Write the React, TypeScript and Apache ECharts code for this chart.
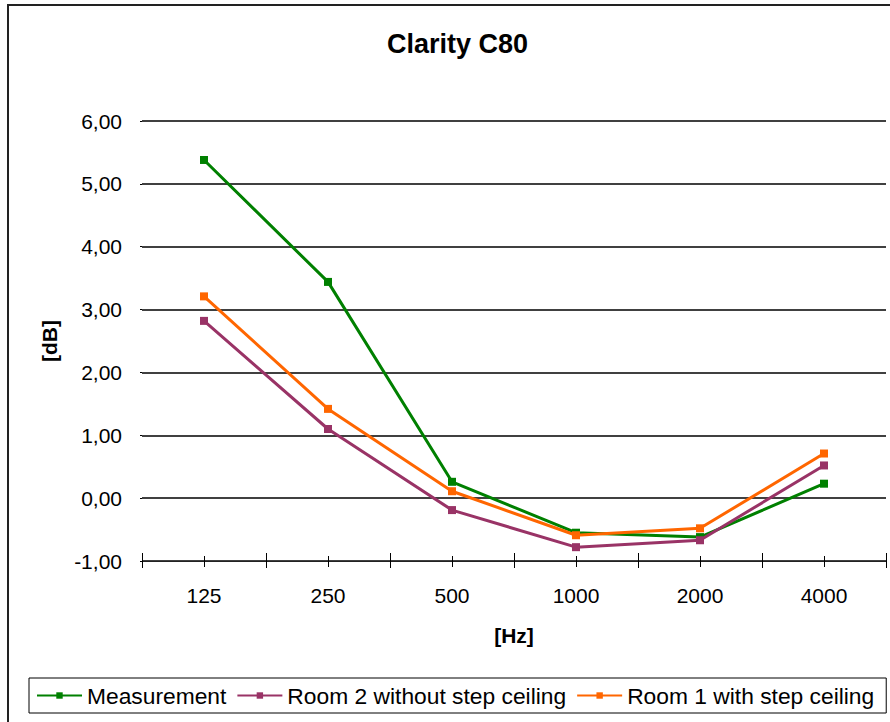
import React, { useEffect, useRef } from "react";
import * as echarts from "echarts";

const categories = ["125", "250", "500", "1000", "2000", "4000"];
const measurement = [5.38, 3.44, 0.26, -0.55, -0.62, 0.23];
const room2 = [2.82, 1.1, -0.19, -0.78, -0.67, 0.52];
const room1 = [3.21, 1.42, 0.11, -0.59, -0.48, 0.71];
const yTicks = { min: -1, max: 6, interval: 1 };

const FONT = "'Liberation Sans', Arial, sans-serif";

export default function App() {
  const ref = useRef<HTMLDivElement>(null);
  useEffect(() => {
    if (!ref.current) return;
    const chart = echarts.init(ref.current, undefined, { renderer: "svg" });
    const gridRect = { left: 142, top: 121, width: 744, height: 440 };
    const grids = [0, 1, 2, 3].map(() => ({ ...gridRect, containLabel: false }));
    const tickAxis = (idx: number, inside: boolean, len: number, align: boolean) => ({
      type: "category",
      gridIndex: idx,
      data: categories,
      boundaryGap: true,
      axisLine: { show: false, onZero: false },
      axisLabel: { show: false },
      splitLine: { show: false },
      axisTick: { show: true, inside, length: len, alignWithLabel: align, lineStyle: { color: "#000", width: 1 } },
    });
    const hiddenY = (idx: number) => ({ type: "value", gridIndex: idx, show: false, min: yTicks.min, max: yTicks.max });
    const series = [
      { name: "Measurement", data: measurement, color: "#008000" },
      { name: "Room 2 without step ceiling", data: room2, color: "#993366" },
      { name: "Room 1 with step ceiling", data: room1, color: "#FF6600" },
    ].map((s) => ({
      type: "line",
      name: s.name,
      data: s.data,
      xAxisIndex: 0,
      yAxisIndex: 0,
      symbol: "rect",
      symbolSize: 8,
      showSymbol: true,
      lineStyle: { color: s.color, width: 3 },
      itemStyle: { color: s.color },
      z: 5,
    }));
    chart.setOption({
      animation: false,
      backgroundColor: "#fff",
      textStyle: { fontFamily: FONT },
      title: {
        text: "Clarity C80",
        left: 387,
        top: 30,
        padding: 0,
        textStyle: { fontFamily: FONT, fontSize: 27, fontWeight: "bold", color: "#000" },
      },
      graphic: [
        {
          type: "rect",
          shape: { x: 8, y: 5, width: 1000, height: 1000 },
          style: { fill: "none", stroke: "#222", lineWidth: 2 },
          silent: true,
        },
      ],
      legend: {
        left: 29,
        top: 678,
        width: 880,
        padding: [6, 12, 6, 7],
        itemWidth: 45,
        itemHeight: 8,
        itemGap: 10,
        borderColor: "#000",
        borderWidth: 1,
        textStyle: { fontFamily: FONT, fontSize: 22.8, color: "#000" },
        data: series.map((s) => s.name),
      },
      grid: grids,
      xAxis: [
        {
          type: "category",
          gridIndex: 0,
          data: categories,
          boundaryGap: true,
          name: "[Hz]",
          nameLocation: "middle",
          nameGap: 64,
          nameTextStyle: { fontFamily: FONT, fontSize: 21, fontWeight: "bold", color: "#000" },
          axisLine: { show: true, onZero: false, lineStyle: { color: "#222", width: 1 } },
          axisTick: { show: true, inside: false, length: 7, lineStyle: { color: "#000", width: 1 } },
          axisLabel: { fontFamily: FONT, fontSize: 21, color: "#000", margin: 24 },
          splitLine: { show: false },
        },
        tickAxis(1, true, 8, false),
        tickAxis(2, false, 6, true),
        tickAxis(3, true, 5, true),
      ],
      yAxis: [
        {
          type: "value",
          gridIndex: 0,
          min: yTicks.min,
          max: yTicks.max,
          interval: yTicks.interval,
          name: "[dB]",
          nameLocation: "middle",
          nameGap: 82,
          nameRotate: 90,
          nameTextStyle: { fontFamily: FONT, fontSize: 21, fontWeight: "bold", color: "#000" },
          axisLine: { show: false },
          axisTick: { show: true, length: 2, lineStyle: { color: "#000" } },
          axisLabel: {
            fontFamily: FONT,
            fontSize: 21,
            color: "#000",
            margin: 20,
            formatter: (v: number) => v.toFixed(2).replace(".", ","),
          },
          splitLine: { show: true, lineStyle: { color: "#000", width: 1.5 } },
        },
        hiddenY(1),
        hiddenY(2),
        hiddenY(3),
      ],
      series,
    });
    return () => chart.dispose();
  }, []);
  return (
    <div
      ref={ref}
      style={{ position: "fixed", left: 0, top: 0, width: 890, height: 722, background: "#fff" }}
    />
  );
}
